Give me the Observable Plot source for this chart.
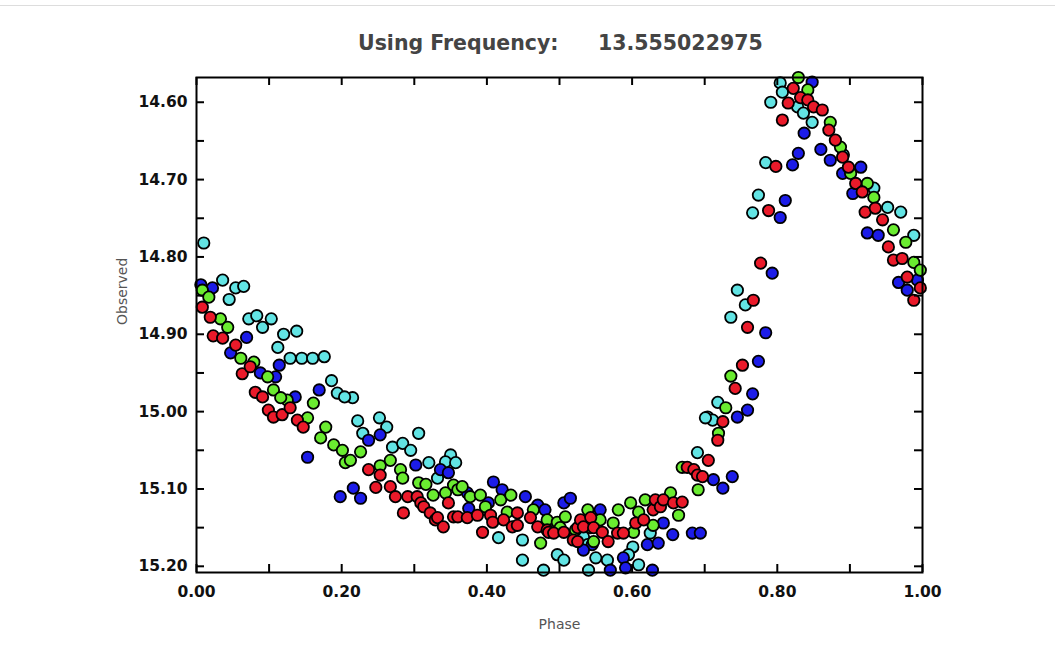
<!DOCTYPE html>
<html>
<head>
<meta charset="utf-8">
<script src="https://cdn.jsdelivr.net/npm/d3@7"></script>
<script src="https://cdn.jsdelivr.net/npm/@observablehq/plot@0.6"></script>
<style>
  html, body { margin: 0; padding: 0; background: #fff; }
  body { width: 1055px; height: 662px; overflow: hidden; position: relative; }
  #topline { position: absolute; left: 0; top: 5px; width: 1055px; height: 0; border-top: 1px solid #ddd; }
  #title { height: 70px; position: relative; font-family: "DejaVu Sans", sans-serif; font-weight: bold; font-size: 20.5px; color: #444; }
  #title span { position: absolute; top: 31px; white-space: pre; }
  #chart svg { display: block; }
</style>
</head>
<body>
<div id="topline"></div>
<div id="title"><span style="left:358px">Using Frequency:</span><span style="left:598px">13.555022975</span></div>
<div id="chart"></div>
<script>
const xLabel = "Phase";
const yLabel = "Observed";
const xTickValues = [0, 0.1, 0.2, 0.3, 0.4, 0.5, 0.6, 0.7, 0.8, 0.9, 1.0];
const xLabelValues = [0, 0.2, 0.4, 0.6, 0.8, 1.0];
const yTickValues = [14.60, 14.65, 14.70, 14.75, 14.80, 14.85, 14.90, 14.95, 15.00, 15.05, 15.10, 15.15, 15.20];
const yLabelValues = [14.60, 14.70, 14.80, 14.90, 15.00, 15.10, 15.20];
const seriesNames = ["Series A", "Series B", "Series C", "Series D"];
const seriesColors = ["#62e4e4", "#1c1ce8", "#6aec30", "#ea1a2a"];

const cyanPts = [
  [0.010,14.782],[0.036,14.830],[0.054,14.840],[0.065,14.838],[0.045,14.855],[0.072,14.880],[0.083,14.876],
  [0.091,14.891],[0.103,14.880],[0.120,14.900],[0.138,14.896],[0.112,14.917],[0.129,14.931],[0.145,14.931],
  [0.160,14.931],[0.176,14.929],[0.186,14.960],[0.194,14.976],[0.215,14.982],[0.204,14.981],[0.222,15.012],
  [0.229,15.028],[0.252,15.008],[0.262,15.020],[0.306,15.028],[0.270,15.046],[0.284,15.041],[0.295,15.050],
  [0.320,15.066],[0.350,15.056],[0.343,15.065],[0.332,15.086],[0.357,15.066],[0.416,15.163],[0.449,15.166],
  [0.449,15.192],[0.497,15.185],[0.506,15.192],[0.478,15.205],[0.533,15.162],[0.539,15.172],[0.550,15.189],
  [0.540,15.205],[0.601,15.175],[0.609,15.198],[0.625,15.157],[0.566,15.192],[0.595,15.185],[0.690,15.053],
  [0.704,15.007],[0.718,14.988],[0.736,14.878],[0.756,14.862],[0.745,14.843],[0.711,15.011],[0.701,15.008],
  [0.766,14.743],[0.774,14.720],[0.784,14.678],[0.791,14.600],[0.804,14.575],[0.807,14.587],[0.828,14.606],
  [0.836,14.614],[0.848,14.626],[0.891,14.668],[0.933,14.711],[0.952,14.736],[0.970,14.742],[0.988,14.772]
];
const bluePts = [
  [0.006,14.836],[0.022,14.840],[0.069,14.904],[0.047,14.924],[0.114,14.940],[0.088,14.950],[0.109,14.955],
  [0.169,14.972],[0.136,14.981],[0.153,15.059],[0.198,15.110],[0.216,15.099],[0.226,15.112],[0.237,15.037],
  [0.253,15.030],[0.302,15.069],[0.336,15.075],[0.347,15.079],[0.373,15.105],[0.375,15.125],[0.402,15.118],
  [0.409,15.091],[0.421,15.101],[0.453,15.110],[0.470,15.121],[0.480,15.127],[0.506,15.118],[0.515,15.112],
  [0.556,15.127],[0.545,15.172],[0.533,15.179],[0.570,15.205],[0.588,15.189],[0.591,15.202],[0.621,15.172],
  [0.636,15.170],[0.643,15.144],[0.656,15.159],[0.683,15.157],[0.694,15.157],[0.628,15.205],[0.712,15.088],
  [0.725,15.099],[0.738,15.084],[0.745,15.007],[0.759,14.998],[0.766,14.977],[0.774,14.935],[0.784,14.898],
  [0.793,14.821],[0.804,14.749],[0.811,14.727],[0.821,14.681],[0.829,14.666],[0.837,14.640],[0.848,14.574],
  [0.860,14.661],[0.873,14.675],[0.890,14.692],[0.904,14.718],[0.915,14.684],[0.924,14.769],[0.939,14.772],
  [0.967,14.833],[0.979,14.843],[0.993,14.830]
];
const greenPts = [
  [0.008,14.843],[0.017,14.852],[0.033,14.880],[0.043,14.891],[0.061,14.931],[0.079,14.936],[0.098,14.955],
  [0.106,14.972],[0.125,14.985],[0.116,14.982],[0.161,14.989],[0.153,15.008],[0.178,15.020],[0.171,15.034],
  [0.189,15.043],[0.205,15.066],[0.201,15.050],[0.212,15.063],[0.226,15.052],[0.253,15.070],[0.267,15.063],
  [0.281,15.075],[0.284,15.086],[0.306,15.092],[0.316,15.094],[0.326,15.108],[0.343,15.105],[0.354,15.095],
  [0.360,15.101],[0.366,15.097],[0.377,15.110],[0.391,15.108],[0.398,15.123],[0.419,15.114],[0.433,15.108],
  [0.428,15.130],[0.464,15.127],[0.474,15.170],[0.483,15.140],[0.497,15.143],[0.501,15.150],[0.508,15.136],
  [0.522,15.153],[0.539,15.127],[0.543,15.150],[0.547,15.168],[0.556,15.140],[0.581,15.127],[0.574,15.144],
  [0.598,15.118],[0.602,15.156],[0.609,15.130],[0.618,15.114],[0.629,15.147],[0.653,15.105],[0.664,15.134],
  [0.669,15.072],[0.691,15.101],[0.719,15.028],[0.729,14.995],[0.736,14.954],[0.829,14.568],[0.842,14.584],
  [0.873,14.626],[0.887,14.658],[0.901,14.692],[0.924,14.705],[0.933,14.723],[0.960,14.765],[0.977,14.781],
  [0.988,14.807],[0.997,14.817]
];
const redPts = [
  [0.008,14.865],[0.019,14.878],[0.023,14.902],[0.036,14.905],[0.054,14.914],[0.063,14.951],[0.074,14.942],
  [0.081,14.975],[0.091,14.981],[0.099,14.998],[0.106,15.007],[0.118,15.004],[0.129,14.995],[0.139,15.011],
  [0.147,15.020],[0.237,15.075],[0.247,15.098],[0.253,15.082],[0.267,15.097],[0.274,15.110],[0.285,15.131],
  [0.291,15.110],[0.304,15.110],[0.309,15.118],[0.313,15.123],[0.322,15.131],[0.329,15.140],[0.332,15.137],
  [0.340,15.149],[0.347,15.118],[0.354,15.136],[0.360,15.136],[0.373,15.137],[0.387,15.134],[0.394,15.156],
  [0.405,15.134],[0.408,15.143],[0.423,15.140],[0.435,15.149],[0.442,15.131],[0.442,15.147],[0.460,15.137],
  [0.470,15.149],[0.483,15.153],[0.485,15.156],[0.492,15.157],[0.506,15.156],[0.519,15.166],[0.525,15.168],
  [0.525,15.150],[0.529,15.140],[0.533,15.149],[0.543,15.137],[0.547,15.150],[0.559,15.156],[0.567,15.168],
  [0.580,15.157],[0.588,15.157],[0.605,15.144],[0.616,15.140],[0.629,15.127],[0.632,15.114],[0.639,15.123],
  [0.643,15.114],[0.657,15.118],[0.669,15.117],[0.676,15.072],[0.685,15.075],[0.690,15.082],[0.697,15.084],
  [0.705,15.063],[0.718,15.037],[0.725,15.013],[0.742,14.970],[0.752,14.940],[0.759,14.891],[0.767,14.856],
  [0.777,14.808],[0.788,14.740],[0.798,14.683],[0.807,14.623],[0.815,14.601],[0.822,14.582],[0.832,14.594],
  [0.842,14.597],[0.850,14.606],[0.862,14.610],[0.871,14.636],[0.880,14.649],[0.890,14.671],[0.898,14.684],
  [0.908,14.705],[0.917,14.716],[0.921,14.742],[0.935,14.737],[0.945,14.752],[0.953,14.787],[0.960,14.804],
  [0.972,14.802],[0.979,14.826],[0.988,14.856],[0.997,14.840]
];

const allPts = [cyanPts, bluePts, greenPts, redPts];
const rows = [];
allPts.forEach((pts, i) => pts.forEach(([phase, mag]) => rows.push({phase, mag, series: seriesNames[i]})));

const W = 1055, H = 592;
const mL = 196, mR = 133, mT = 7, mB = 90;
const plotW = W - mL - mR, plotH = H - mT - mB;
const tick = 8;
const tickFont = "DejaVu Sans, sans-serif";

const chart = Plot.plot({
  width: W, height: H,
  marginLeft: mL, marginRight: mR, marginTop: mT, marginBottom: mB,
  style: {background: "white", fontFamily: tickFont},
  x: {domain: [0, 1]},
  y: {domain: [14.568, 15.208], reverse: true},
  color: {type: "ordinal", domain: seriesNames, range: seriesColors},
  marks: [
    Plot.dot(rows, {x: "phase", y: "mag", fill: "series", stroke: "black", strokeWidth: 1.8, r: 5.7, clip: false}),
    Plot.frame({stroke: "black", strokeWidth: 2}),
    Plot.tickY(yTickValues, {y: d => d, insetRight: plotW - tick, stroke: "black", strokeWidth: 2}),
    Plot.tickY(yTickValues, {y: d => d, insetLeft: plotW - tick, stroke: "black", strokeWidth: 2}),
    Plot.tickX(xTickValues, {x: d => d, insetTop: plotH - tick, stroke: "black", strokeWidth: 2}),
    Plot.tickX(xTickValues, {x: d => d, insetBottom: plotH - tick, stroke: "black", strokeWidth: 2}),
    Plot.axisY(yLabelValues, {tickSize: 0, tickPadding: 9, tickFormat: d3.format(".2f"), fontSize: 15.5, fontWeight: "bold", fill: "#111", label: null}),
    Plot.axisX(xLabelValues, {tickSize: 0, tickPadding: 13, tickFormat: d3.format(".2f"), fontSize: 15.5, fontWeight: "bold", fill: "#111", label: null}),
    Plot.text([xLabel], {frameAnchor: "bottom", dy: 56, text: d => d, fontSize: 14, fill: "#555"}),
    Plot.text([yLabel], {frameAnchor: "left", dx: -74, rotate: -90, text: d => d, fontSize: 14, fill: "#555"})
  ]
});
document.getElementById("chart").appendChild(chart);
</script>
</body>
</html>
